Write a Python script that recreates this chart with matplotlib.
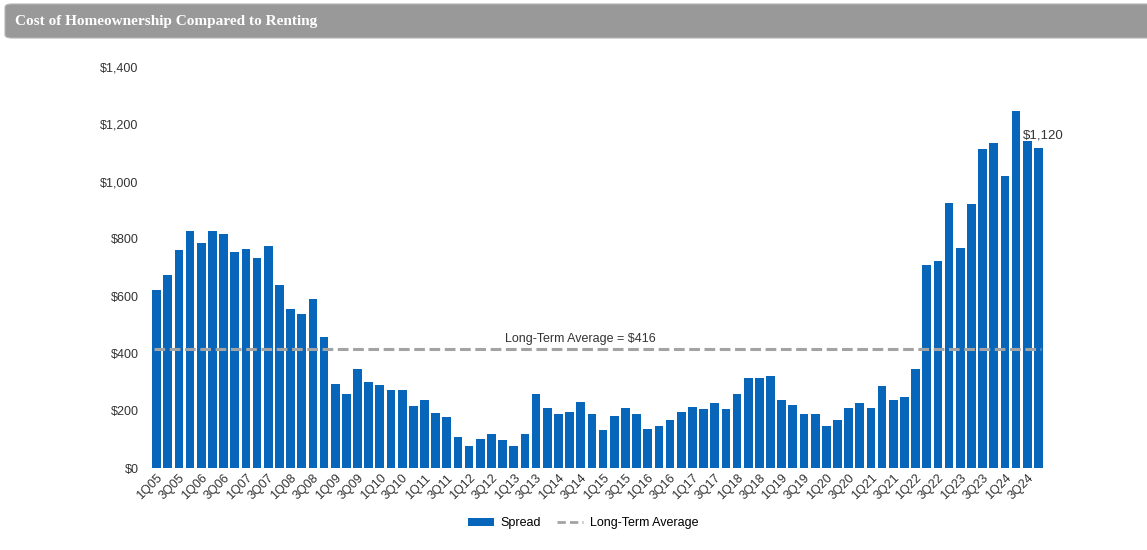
import matplotlib.pyplot as plt
from matplotlib.patches import FancyBboxPatch, Patch
from matplotlib.lines import Line2D

# quarters 1Q05 .. 4Q24
quarters = [f"{q}Q{y:02d}" for y in range(5, 25) for q in range(1, 5)]

spread = [
    620, 673, 762, 829, 784, 826, 817, 753, 763, 732, 775, 640,   # 05-07
    554, 539, 591, 459, 292, 257, 346, 300, 291, 272, 272, 217,   # 08-10
    236, 191, 178, 107, 78, 101, 117, 98, 78, 118, 257, 211,      # 11-13
    188, 194, 230, 188, 134, 180, 211, 190, 137, 145, 166, 194,   # 14-16
    214, 205, 227, 205, 257, 313, 313, 322, 236, 220, 190, 187,   # 17-19
    145, 166, 208, 227, 208, 285, 236, 248, 345, 710, 722, 925,   # 20-22
    768, 921, 1115, 1136, 1021, 1246, 1143, 1118,                 # 23-24
]
long_term_avg = 416
last_label = "$1,120"

blue = "#0766BA"
gray = "#A3A3A3"

fig = plt.figure(figsize=(11.47, 5.5), dpi=100)

# header bar
fig.patches.append(FancyBboxPatch((5 / 1147, 512 / 550), 1200 / 1147, 34 / 550,
                                  boxstyle="round,pad=0,rounding_size=0.006",
                                  transform=fig.transFigure, facecolor="#999999",
                                  edgecolor="#B5B5B5", linewidth=0.8, zorder=0))
fig.text(15 / 1147, 529 / 550, "Cost of Homeownership Compared to Renting",
         family="Liberation Serif", weight="bold", fontsize=11, color="white",
         va="center", ha="left")

ax = fig.add_axes([151 / 1147, 82 / 550, 893 / 1147, 401 / 550])
x = list(range(len(spread)))
ax.bar(x, spread, width=0.78, color=blue, zorder=2)
ax.plot([-0.2, len(spread) - 0.8], [long_term_avg, long_term_avg],
        color=gray, linestyle=(0, (3.5, 1.5)), linewidth=2.2, zorder=3)
ax.text(38, long_term_avg + 12, f"Long-Term Average = ${long_term_avg}",
        ha="center", va="bottom", fontsize=9, color="#333333",
        family="Liberation Sans")
ax.text(len(spread) - 2.4, 1140, last_label, ha="left", va="bottom",
        fontsize=9.5, color="#333333", family="Liberation Sans")

ax.set_xlim(-0.5, len(spread) - 0.5)
ax.set_ylim(0, 1400)
ax.set_yticks(range(0, 1401, 200))
ax.set_yticklabels([f"${v:,}" for v in range(0, 1401, 200)],
                   family="Liberation Sans", fontsize=9, color="#333333")
ax.set_xticks(x[::2])
ax.set_xticklabels(quarters[::2], rotation=45, ha="right",
                   rotation_mode="anchor", family="Liberation Sans",
                   fontsize=9, color="#333333")
ax.tick_params(axis="both", length=0)
ax.tick_params(axis="y", pad=9)
ax.tick_params(axis="x", pad=3)
for s in ax.spines.values():
    s.set_visible(False)

handles = [Patch(facecolor=blue, label="Spread"),
           Line2D([], [], color=gray, linestyle=(0, (3, 1.5)), linewidth=2,
                  label="Long-Term Average")]
fig.legend(handles=handles, loc="center", bbox_to_anchor=(583 / 1147, 27 / 550),
           ncol=2, frameon=False, handlelength=2.1, handleheight=0.6,
           handletextpad=0.5, columnspacing=1.3,
           prop={"family": "Liberation Sans", "size": 9})

fig.savefig("out.png", dpi=100)
